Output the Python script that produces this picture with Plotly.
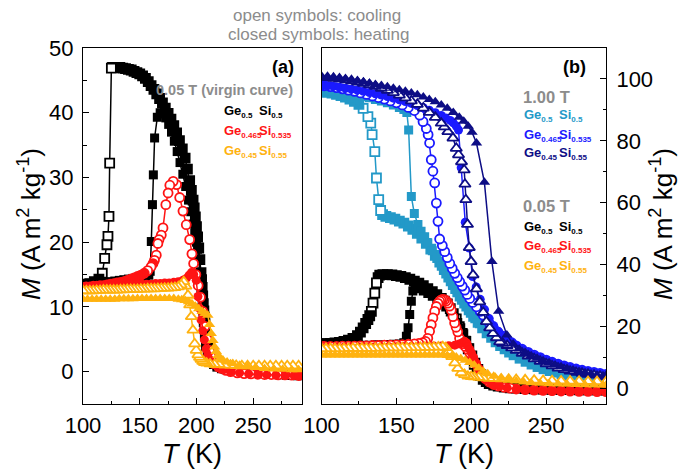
import plotly.graph_objects as go

# ---------------- DATA ----------------
# Panel (a): 0.05 T virgin curves
A_BLK_COOL_T = [290,285,280,275,270,265,260,255,250,245,240,235,230,226,222,219,216,214,213,212,211,210,209,208.5,208,207.5,207,206.5,206,205.5,205,204.5,204,203,202,201,200,199,198,197,195.5,194,192,190,187.5,185,182.5,180,177.5,175,172.5,170,167.5,165,162.5,160,157.5,155,152.5,150,147.5,145,142.5,140,137.5,135,132.5,130,127.5,126,125,123.5,122.9,122,121.1,119.1,117,114,110,106,103,100]
A_BLK_COOL_M = [-0.5,-0.45,-0.4,-0.35,-0.3,-0.25,-0.2,-0.15,-0.1,0,0.05,0.15,0.3,0.5,0.8,1.1,1.5,2.1,2.4,2.8,3.3,4.0,5.0,5.7,6.5,7.4,8.4,9.4,10.5,11.7,13.0,14.2,15.3,17.3,19.1,20.8,22.4,23.9,25.3,26.5,28.0,29.5,31.3,33.0,34.4,35.7,36.9,38.0,39.0,39.9,40.7,41.5,42.2,42.9,43.6,44.2,44.8,45.3,45.7,46.0,46.2,46.4,46.6,46.7,46.8,46.9,47.0,47.0,47.0,47.0,46.9,32.2,24,20.9,19.6,17.5,15.2,14.3,13.9,13.6,13.5,13.4]
A_BLK_HEAT_T = [100,104,108,112,116,120,124,128,132,136,140,144,148,152,155,158,159.2,160.2,161.2,162,163.1,165.5,168,170.5,173,175.5,178,180.5,183,185.5,188,190.5,193,195,197,198.5,200,201,202,203,204,205,206,207,208,209.5,211,213,215,218,222,226,230,235,240,245,250,255,260,265,270,275,280,285,290]
A_BLK_HEAT_M = [13.3,13.4,13.5,13.6,13.7,13.8,13.9,14.0,14.1,14.2,14.3,14.4,14.5,14.6,14.7,14.9,15.5,20.1,25.8,30.4,36.1,39.3,40.0,39.8,39.2,38.2,37.0,35.6,34.0,32.3,30.5,28.6,26.5,24.7,22.8,21.4,20.0,18.9,17.3,15.2,12.6,10.0,7.6,5.5,3.9,2.7,2.0,1.5,1.1,0.7,0.45,0.3,0.2,0.1,0.0,-0.1,-0.15,-0.2,-0.25,-0.3,-0.35,-0.4,-0.45,-0.5,-0.5]
A_RED_COOL_T = [290,284,278,272,266,260,254,248,242,236,230,226,222,219,216,213.5,211.5,209.5,207.5,205.5,203.5,201.5,199.5,197.5,196,194,191,188.1,185.2,182.5,179.5,176.5,175,173,170.5,169,167,166,164.6,163,161.7,160,157,154,151,148,145,142,139,136,133,130,127,124,121,118,115,112,109,106,103,100]
A_RED_COOL_M = [-0.6,-0.55,-0.5,-0.5,-0.45,-0.45,-0.4,-0.35,-0.3,-0.2,0,0.2,0.5,0.9,1.4,2.2,3.3,5.0,7.0,9.3,11.5,13.3,15.0,16.7,18.2,20.4,22.7,24.8,26.9,28.9,29.4,28.8,27.6,25.8,22.2,21.1,20.4,19.8,18.0,17.2,16.7,16.2,15.6,15.2,14.9,14.7,14.5,14.3,14.1,13.9,13.8,13.7,13.6,13.5,13.4,13.3,13.3,13.2,13.2,13.1,13.1,13.0]
A_RED_HEAT_T = [100,104,108,112,116,120,124,128,132,136,140,144,148,152,156,160,164,168,172,176,180,184,188,191,193.5,195.5,197.5,199.8,201.3,202.7,204,205.5,207,208.5,210,212,215,219,224,230,238,246,254,262,270,278,286,290]
A_RED_HEAT_M = [13.0,13.0,13.1,13.1,13.2,13.2,13.2,13.3,13.3,13.3,13.4,13.4,13.4,13.5,13.5,13.5,13.6,13.6,13.7,13.7,13.8,13.9,14.1,14.4,14.9,15.3,15.0,14.1,11.6,9.8,8.0,6.3,4.9,3.5,2.6,1.8,1.1,0.6,0.3,0.0,-0.2,-0.35,-0.45,-0.5,-0.55,-0.6,-0.6,-0.6]
A_ORG_COOL_T = [290,285,280,275,270,265,260,255,250,245,240,235,230,225,220,216,212,209,207,205.5,204,202.7,201.3,199.8,198.4,196.9,195.5,194,192.5,190.7,188.8,186.5,184,181,178,175,172,169,166,163,160,157,154,151,148,145,142,139,136,133,130,127,124,121,118,115,112,109,106,103,100]
A_ORG_COOL_M = [0.9,0.9,0.9,0.9,0.9,0.9,0.9,0.9,0.9,0.9,0.9,0.95,1.0,1.0,1.1,1.1,1.2,1.3,1.4,1.6,1.9,2.2,2.6,3.3,4.3,6.4,8.5,10.3,11.8,13.2,13.9,13.4,13.1,13.0,12.95,12.9,12.9,12.85,12.85,12.8,12.8,12.8,12.75,12.75,12.7,12.7,12.7,12.7,12.65,12.65,12.6,12.6,12.6,12.6,12.6,12.55,12.55,12.5,12.5,12.5,12.5]
A_ORG_HEAT_T = [100,104,108,112,116,120,124,128,132,136,140,144,148,152,156,160,164,168,172,176,180,184,187,190,193,196,199,202,205,207.5,210,211.5,213,214.5,216,217.5,219,221,223.3,227,232,238,245,252,260,268,276,284,290]
A_ORG_HEAT_M = [11.2,11.2,11.2,11.2,11.2,11.2,11.2,11.2,11.25,11.25,11.25,11.25,11.3,11.3,11.3,11.3,11.3,11.3,11.3,11.3,11.3,11.2,11.1,11.0,10.8,10.5,10.1,9.7,9.3,9.0,8.7,7.3,5.9,4.8,3.8,3.1,2.5,2.1,1.8,1.5,1.25,1.0,0.8,0.65,0.5,0.4,0.35,0.3,0.3]

# Panel (b): 1.00 T
B_LB_COOL_T = [290,286,282,278,274,270,266,262,258,254,250,246,242,238,234,230,227,224,221,218,215,212,209,206,203,200,197,194,191,188,185,182,179,176,173,170,167,164,161,158,155,152,149,146,143,140.8,139.5,138.2,136.7,135.6,133.8,132.9,131,127.8,125,122,119,116,113,110,107,104,100]
B_LB_COOL_M = [2.8,3.1,3.4,3.7,4.0,4.4,4.8,5.3,5.8,6.4,7.0,7.7,8.5,9.4,10.4,11.5,12.5,13.5,14.6,15.8,17.0,18.3,19.7,21.2,22.8,24.6,26.6,28.8,31.2,33.6,36.0,38.4,40.8,43.0,45.0,46.9,48.6,50.1,51.4,52.5,53.4,54.1,54.7,55.2,55.6,56.2,57.5,61.0,68.0,76.5,82.0,85.7,87.8,90.5,91.8,92.8,93.5,94.1,94.6,95.0,95.4,95.7,96.1]
B_LB_HEAT_T = [100,104,108,112,116,120,124,128,132,136,140,144,148,152,155,157,158.2,160,162,164.4,166.5,168.9,171,174,177,180,183,186,189,192,195,198,201,204,207,210,213,216,219,222,225,228,232,236,240,244,248,252,256,260,264,268,272,276,280,284,288,290]
B_LB_HEAT_M = [96.4,96.2,96.0,95.7,95.4,95.1,94.7,94.3,93.9,93.4,92.9,92.3,91.6,90.8,90.1,89.2,83.5,62.0,56.5,53.0,50.8,49.0,47.0,44.5,42.0,39.5,37.0,34.5,32.0,29.6,27.3,25.1,23.0,21.1,19.3,17.7,16.2,14.8,13.6,12.5,11.5,10.6,9.5,8.5,7.6,6.8,6.1,5.5,5.0,4.5,4.1,3.7,3.4,3.1,2.9,2.7,2.5,2.4]
B_BL_COOL_T = [290,286,282,278,274,270,266,262,258,254,250,246,242,238,234,230,227,224,221,218,215,212.3,210,208,206,203.5,201,199,197.3,195.7,194,192.3,190.7,189,187.3,185.7,184,182.3,180.7,178.9,177.8,176.7,175.6,174.4,173.3,172.2,171.2,170,167.8,165.6,162,158,154,150,146,142,138,134,130,126,122,118,114,110,106,102,100]
B_BL_COOL_M = [4.6,4.9,5.2,5.5,5.9,6.3,6.8,7.3,7.9,8.5,9.2,10.0,10.8,11.7,12.7,13.8,14.8,15.8,16.9,18.1,19.4,20.9,22.3,23.7,24.9,26.4,27.8,29.1,30.4,31.8,33.1,34.5,35.8,37.2,38.8,40.4,42.3,44.2,46.2,48.3,54.0,59.9,66.4,70.2,73.9,79.3,82.0,84.0,86.2,88.3,89.8,90.8,91.6,92.3,92.9,93.5,94.0,94.5,95.0,95.5,96.0,96.4,96.8,97.2,97.5,97.8,97.9]
B_BL_HEAT_T = [100,104,108,112,116,120,124,128,132,136,140,144,148,152,156,160,164,168,172,176,180,183,186,188,190,191.5,193.3,196,198.7,200.9,203.3,206,208.9,212,215,218,221,224,227,230,234,238,242,246,250,254,258,262,266,270,274,278,282,286,290]
B_BL_HEAT_M = [98.0,97.8,97.6,97.3,97.0,96.7,96.4,96.0,95.6,95.2,94.8,94.3,93.8,93.3,92.7,92.1,91.4,90.7,89.9,89.1,88.2,87.4,86.6,85.8,84.8,83.5,71.3,53.7,45.4,36.2,32.8,28.8,25.5,22.6,20.3,18.5,17.1,15.9,14.8,13.8,12.6,11.6,10.7,9.9,9.2,8.5,7.9,7.3,6.8,6.3,5.9,5.5,5.2,4.9,4.6]
B_NV_COOL_T = [290,286,282,278,274,270,266,262,258,254,250,246,242,238,234,230,227,224,221,219,216.8,214.5,212.3,210.1,208,205.7,203.5,201.2,199.9,198.7,197.5,196.4,195.8,195.3,193.5,191.5,190,187.8,184.4,182,180,176,172,168,164,160,156,152,148,144,140,136,132,128,124,120,116,112,108,104,100]
B_NV_COOL_M = [3.8,4.0,4.3,4.6,4.9,5.2,5.6,6.1,6.6,7.3,8.0,8.8,9.6,10.5,11.4,12.3,13.1,13.9,14.6,15.1,16.4,17.8,19.6,21.6,24.6,28.0,32.2,36.7,41.0,45.5,53.0,61.0,66.0,70.6,73.2,75.5,77.6,80.9,83.0,84.5,85.7,87.6,89.2,90.6,91.8,92.9,93.9,94.8,95.6,96.3,97.0,97.6,98.1,98.6,99.0,99.4,99.7,100.0,100.2,100.4,100.5]
B_NV_HEAT_T = [100,104,108,112,116,120,124,128,132,136,140,144,148,152,156,160,164,168,172,176,180,184,188,192,195,198,200.5,203.5,208.8,213.8,218.3,223.8,228,232,236,240,244,248,252,256,260,264,268,272,276,280,284,288,290]
B_NV_HEAT_M = [100.6,100.5,100.3,100.1,99.9,99.6,99.3,99.0,98.6,98.2,97.9,97.5,97.0,96.5,96.0,95.5,94.9,94.2,93.4,92.6,91.6,90.5,89.2,87.6,86.3,84.7,82.8,79.3,66.6,41.0,25.0,17.3,14.4,12.8,11.6,10.6,9.8,9.0,8.3,7.6,7.0,6.5,6.0,5.5,5.1,4.7,4.4,4.1,3.9]

# Panel (b): 0.05 T
B_BK_COOL_T = [290,284,278,272,266,260,254,248,242,236,230,226,222,218,215,212,210,208,206,204,202,200,198,196,194,192,190,188,186,184,182,180,177,174,171,168,165,162,159,156,153,150,147,144,141,138.9,137.8,136.7,135.6,134.4,133.3,132.2,131,129.5,127.8,126,124,121,118,115,112,109,106,103,100]
B_BK_COOL_M = [-0.5,-0.45,-0.4,-0.4,-0.35,-0.3,-0.25,-0.2,-0.1,0.0,0.1,0.25,0.45,0.75,1.1,1.6,2.2,3.0,4.2,5.8,7.8,10.2,12.8,15.3,17.8,20.0,22.5,24.2,25.8,27.3,28.2,29.1,30.3,31.3,32.3,33.2,34.0,34.7,35.3,35.8,36.2,36.5,36.7,36.8,36.8,36.6,35.8,34.1,30.8,27.6,24.9,23.5,22.3,21.0,19.6,18.2,17.1,16.2,15.6,15.2,14.9,14.7,14.6,14.5,14.5]
B_BK_HEAT_T = [100,104,108,112,116,120,124,128,132,136,140,144,148,152,155,156.7,157.8,158.9,160,161,162.5,165,168,171,174,177,180,183,186,189,191,193,195,197,199,201,203,205,207,209,212,216,220,225,230,236,242,248,254,260,266,272,278,284,290]
B_BK_HEAT_M = [13.8,13.8,13.8,13.9,13.9,13.9,14.0,14.0,14.0,14.1,14.1,14.2,14.3,14.4,14.8,16.9,19.6,23.9,28.2,31.5,32.6,32.2,31.5,30.7,29.8,28.8,27.6,26.3,24.7,22.8,21.3,19.6,17.7,15.5,13.2,10.8,8.5,6.5,4.8,3.5,2.2,1.2,0.6,0.3,0.1,-0.05,-0.15,-0.25,-0.3,-0.35,-0.4,-0.45,-0.45,-0.5,-0.5]
B_RD_COOL_T = [290,284,278,272,266,260,254,248,242,236,230,226,222,218,215,212,209.5,207,205,203,201,199,197.5,196,194.5,193.3,192.2,191,189.9,188.9,187.8,186.7,185.5,184.4,183.3,182.2,181,179.9,178.9,177.8,176.7,175.6,174.4,173.3,172.2,171,169.5,167.5,165,162,158,154,150,146,142,138,134,130,126,122,118,114,110,106,102,100]
B_RD_COOL_M = [-1.0,-1.0,-0.95,-0.9,-0.85,-0.8,-0.7,-0.6,-0.5,-0.35,-0.15,0.1,0.4,0.8,1.3,2.1,3.2,4.6,6.2,8.0,9.8,11.5,12.7,13.6,14.5,15.2,16.2,18.3,19.8,21.2,23.2,25.3,26.6,27.6,28.3,28.7,28.8,28.6,28.2,27.5,26.5,24.9,22.8,20.6,18.5,16.2,15.2,14.8,14.6,14.4,14.3,14.2,14.1,14.0,14.0,13.9,13.9,13.8,13.8,13.7,13.7,13.7,13.6,13.6,13.6,13.6]
B_RD_HEAT_T = [100,105,110,115,120,125,130,135,140,145,150,155,160,165,170,175,180,185,189,192,194,195.5,197,197.8,199,200.2,201.3,202.2,203.5,204.6,205.7,206.7,208,210,212.5,215,219,224,230,236,242,248,254,260,266,272,278,284,290]
B_RD_HEAT_M = [13.3,13.3,13.3,13.35,13.35,13.4,13.4,13.45,13.45,13.5,13.5,13.55,13.6,13.6,13.65,13.7,13.75,13.8,14.0,14.4,14.8,15.3,14.7,13.6,12.6,11.4,10.2,9.0,7.8,6.7,5.8,4.9,4.0,3.0,2.1,1.4,0.7,0.2,-0.2,-0.45,-0.6,-0.7,-0.8,-0.85,-0.9,-0.95,-1.0,-1.0,-1.0]
B_OR_COOL_T = [290,284,278,272,266,260,254,248,242,236,230,225,220,216,212,208,205,202,200,197.8,195.5,193.3,191,189,187,185,183,181,178,175,172,169,166,163,160,157,154,151,148,145,142,139,136,133,130,127,124,121,118,115,112,109,106,103,100]
B_OR_COOL_M = [2.2,2.25,2.3,2.35,2.4,2.45,2.5,2.6,2.7,2.8,2.9,3.0,3.1,3.2,3.3,3.45,3.6,3.75,3.85,4.0,4.5,5.1,6.5,8.3,10.3,12.0,13.2,13.5,13.4,13.35,13.3,13.3,13.25,13.2,13.2,13.2,13.15,13.15,13.1,13.1,13.1,13.05,13.05,13.0,13.0,13.0,13.0,13.0,12.95,12.95,12.9,12.9,12.9,12.9,12.9]
B_OR_HEAT_T = [100,103,106,109,112,115,118,121,124,127,130,133,136,139,142,145,148,151,154,157,160,163,166,169,172,175,178,181,184,187,190,193,196,199,202,205,208,211,215,220,225,230,235,240,246,252,258,264,270,276,282,288,290]
B_OR_HEAT_M = [10.8,10.8,10.8,10.8,10.8,10.8,10.8,10.8,10.8,10.8,10.8,10.8,10.8,10.8,10.8,10.8,10.8,10.8,10.8,10.8,10.8,10.8,10.8,10.8,10.8,10.8,10.8,10.8,10.7,10.5,10.2,9.7,9.1,8.4,7.6,6.6,5.6,4.8,4.0,3.3,2.8,2.4,2.1,1.9,1.7,1.55,1.45,1.35,1.3,1.2,1.15,1.1,1.1]

X_TICKS = [100, 150, 200, 250]
YA_TICKS = [0, 10, 20, 30, 40, 50]
YB_TICKS = [0, 20, 40, 60, 80, 100]

# ---------------- STYLE ----------------
BLACK = "#000000"
RED = "#ff1414"
ORANGE = "#ffb20f"
LBLUE = "#2399c8"
BLUE = "#1a1aff"
NAVY = "#0d0d85"
GRAY = "#8c8c8c"
FONT = "Liberation Sans, Arial, sans-serif"
W, H = 678, 476

# plot-area geometry in pixels
XA_PX = (83, 302)
XB_PX = (321.5, 606)
Y_PX = (48, 404)
XA_RANGE = [100, 293]
XB_RANGE = [100, 290]
YA_RANGE = [-5, 50]
YB_RANGE = [-5, 110]
SCALE = {
    "a": ((XA_PX[1] - XA_PX[0]) / (XA_RANGE[1] - XA_RANGE[0]),
          (Y_PX[1] - Y_PX[0]) / (YA_RANGE[1] - YA_RANGE[0])),
    "b": ((XB_PX[1] - XB_PX[0]) / (XB_RANGE[1] - XB_RANGE[0]),
          (Y_PX[1] - Y_PX[0]) / (YB_RANGE[1] - YB_RANGE[0])),
}

fig = go.Figure()


def add(T, M, color, symbol, is_open, panel, size, solid_px=0, open_range=None):
    """Open symbols get a white face; where the measured points crowd so closely
    that the symbols merge into a solid band, the face takes the series colour,
    as in the printed figure."""
    xa, ya = ("x", "y") if panel == "a" else ("x2", "y2")
    if is_open:
        sx, sy = SCALE[panel]
        faces = []
        n = len(T)
        for i in range(n):
            if open_range is not None:
                solid = not (open_range[0] <= T[i] <= open_range[1])
            else:
                d = []
                for j in (i - 1, i + 1):
                    if 0 <= j < n:
                        d.append((((T[i] - T[j]) * sx) ** 2 + ((M[i] - M[j]) * sy) ** 2) ** 0.5)
                solid = max(d) < solid_px
            faces.append(color if solid else "white")
        marker = dict(symbol=symbol, size=size, color=faces,
                      line=dict(color=color, width=1.8))
    else:
        marker = dict(symbol=symbol, size=size, color=color, line=dict(width=0))
    fig.add_trace(go.Scatter(
        x=T, y=M, mode="lines+markers", xaxis=xa, yaxis=ya,
        line=dict(color=color, width=1.5), marker=marker,
        showlegend=False, hoverinfo="skip"))


# panel (a)
add(A_BLK_COOL_T, A_BLK_COOL_M, BLACK, "square", True, "a", 9, open_range=(116.5, 125.5))
add(A_BLK_HEAT_T, A_BLK_HEAT_M, BLACK, "square", False, "a", 9)
add(A_RED_COOL_T, A_RED_COOL_M, RED, "circle", True, "a", 9, 4.7)
add(A_RED_HEAT_T, A_RED_HEAT_M, RED, "circle", False, "a", 9)
add(A_ORG_COOL_T, A_ORG_COOL_M, ORANGE, "triangle-up", True, "a", 10)
add(A_ORG_HEAT_T, A_ORG_HEAT_M, ORANGE, "triangle-up", False, "a", 10)
# panel (b) 1.00 T
add(B_LB_COOL_T, B_LB_COOL_M, LBLUE, "square", True, "b", 9, 9)
add(B_LB_HEAT_T, B_LB_HEAT_M, LBLUE, "square", False, "b", 9)
add(B_BL_COOL_T, B_BL_COOL_M, BLUE, "circle", True, "b", 9)
add(B_BL_HEAT_T, B_BL_HEAT_M, BLUE, "circle", False, "b", 9)
add(B_NV_COOL_T, B_NV_COOL_M, NAVY, "triangle-up", True, "b", 10)
add(B_NV_HEAT_T, B_NV_HEAT_M, NAVY, "triangle-up", False, "b", 10)
# panel (b) 0.05 T
add(B_BK_COOL_T, B_BK_COOL_M, BLACK, "square", True, "b", 9, 8)
add(B_BK_HEAT_T, B_BK_HEAT_M, BLACK, "square", False, "b", 9)
add(B_RD_COOL_T, B_RD_COOL_M, RED, "circle", True, "b", 9)
add(B_RD_HEAT_T, B_RD_HEAT_M, RED, "circle", False, "b", 9)
add(B_OR_COOL_T, B_OR_COOL_M, ORANGE, "triangle-up", True, "b", 10)
add(B_OR_HEAT_T, B_OR_HEAT_M, ORANGE, "triangle-up", False, "b", 10)

YDOM = [1 - Y_PX[1] / H, 1 - Y_PX[0] / H]
common = dict(showgrid=False, zeroline=False, showline=True, mirror=True,
              linecolor="black", linewidth=1, ticks="inside", ticklen=6,
              tickcolor="black", automargin=False,
              tickfont=dict(family=FONT, size=22, color="black"))

fig.update_layout(
    width=W, height=H, autosize=False, margin=dict(l=0, r=0, t=0, b=0, pad=0),
    paper_bgcolor="white", plot_bgcolor="white", hovermode=False,
    xaxis=dict(domain=[XA_PX[0] / W, XA_PX[1] / W], range=XA_RANGE, anchor="y",
               tickvals=X_TICKS, ticklabelstandoff=2,
               minor=dict(ticks="inside", ticklen=3.5, dtick=25, tick0=0, tickcolor="black"),
               **common),
    yaxis=dict(domain=YDOM, range=YA_RANGE, anchor="x", tickvals=YA_TICKS,
               ticklabelstandoff=4,
               minor=dict(ticks="inside", ticklen=3.5, dtick=5, tick0=0, tickcolor="black"),
               **common),
    xaxis2=dict(domain=[XB_PX[0] / W, XB_PX[1] / W], range=XB_RANGE, anchor="y2",
                tickvals=X_TICKS, ticklabelstandoff=2,
                minor=dict(ticks="inside", ticklen=3.5, dtick=25, tick0=0, tickcolor="black"),
                **common),
    yaxis2=dict(domain=YDOM, range=YB_RANGE, anchor="x2", side="right",
                tickvals=YB_TICKS, ticklabelstandoff=5,
                minor=dict(ticks="inside", ticklen=3.5, dtick=10, tick0=0, tickcolor="black"),
                **common),
)


def ann(text, xp, yp, size, color="black", xanchor="center", angle=0):
    fig.add_annotation(text=text, x=xp / W, y=1 - yp / H, xref="paper", yref="paper",
                       xanchor=xanchor, yanchor="middle", showarrow=False, textangle=angle,
                       font=dict(family=FONT, size=size, color=color))


ann("open symbols: cooling", 317, 15, 17, GRAY)
ann("closed symbols: heating", 318, 35, 17, GRAY)
MT = "<i>M</i> (A m<sup>2</sup> kg<sup>-1</sup>)"
ann(MT, 29, 224, 26, angle=-90)
ann(MT, 661, 224, 26, angle=-90)
ann("<i>T</i> (K)", 192.5, 454, 27)
ann("<i>T</i> (K)", 464, 454, 27)
ann("<b>(a)</b>", 296, 67, 18, xanchor="right")
ann("<b>(b)</b>", 588, 67, 18, xanchor="right")
ann("<b>0.05 T (virgin curve)</b>", 295, 90, 14.5, GRAY, xanchor="right")
ann("<b>1.00 T</b>", 521, 97, 16.5, GRAY, xanchor="left")
ann("<b>0.05 T</b>", 521, 206, 16.5, GRAY, xanchor="left")


def sub(s):
    return '<sub><span style="font-size:8px">' + s + '</span></sub>'


def formula(ge, si, gx, sx, yp, color):
    ann("<b>Ge" + sub(ge) + "</b>", gx, yp, 13, color, xanchor="left")
    ann("<b>Si" + sub(si) + "</b>", sx, yp, 13, color, xanchor="left")


formula("0.5", "0.5", 222, 256.5, 111, BLACK)
formula("0.465", "0.535", 222, 256.5, 131, RED)
formula("0.45", "0.55", 222, 256.5, 151, ORANGE)
formula("0.5", "0.5", 521.5, 556.5, 115, LBLUE)
formula("0.465", "0.535", 521.5, 556.5, 135, BLUE)
formula("0.45", "0.55", 521.5, 556.5, 154, NAVY)
formula("0.5", "0.5", 521.5, 556.5, 227, BLACK)
formula("0.465", "0.535", 521.5, 556.5, 246, RED)
formula("0.45", "0.55", 521.5, 556.5, 266, ORANGE)

fig.write_html("out.html")
